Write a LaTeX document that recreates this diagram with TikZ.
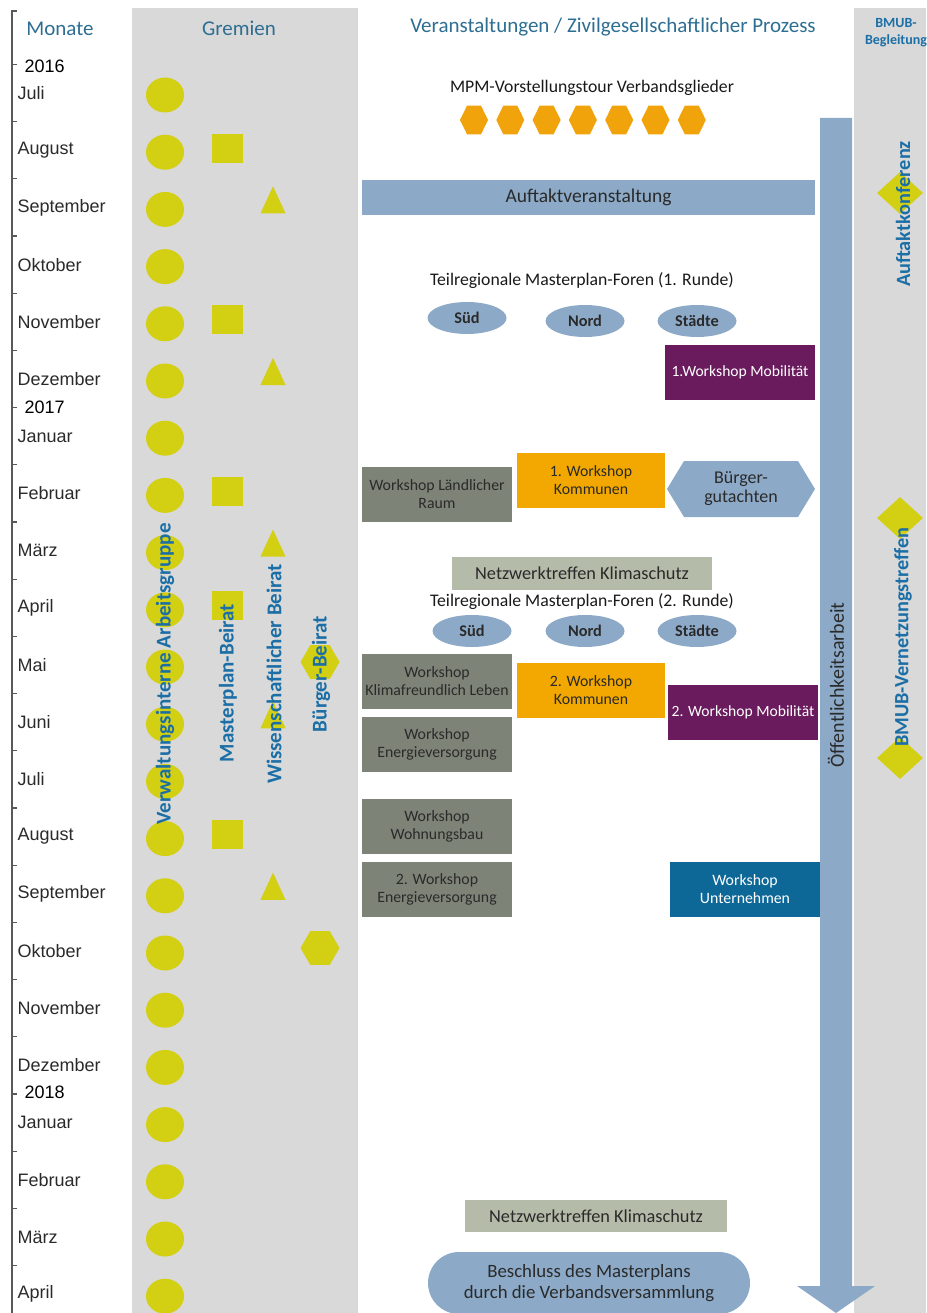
\documentclass[tikz,border=0pt]{standalone}
\usepackage{fontspec}
\setmainfont{Carlito}
\newfontfamily\monatfont{Liberation Sans}
\usetikzlibrary{shapes.geometric}

\definecolor{spaltegrau}{HTML}{D9D9D9}
\definecolor{gelb}{HTML}{D3CF12}
\definecolor{kopfblau}{HTML}{2D6E92}
\definecolor{labelblau}{HTML}{1B6FA6}
\definecolor{stahlblau}{HTML}{8CAAC7}
\definecolor{hexorange}{HTML}{F0A30A}
\definecolor{kommorange}{HTML}{F2A800}
\definecolor{mobilila}{HTML}{6A1B5D}
\definecolor{wsgrau}{HTML}{7E8378}
\definecolor{netzgrau}{HTML}{B5BBA9}
\definecolor{unternblau}{HTML}{0E6897}
\definecolor{textdunkel}{HTML}{2A2A2A}

\newcommand{\schrift}[2]{\fontsize{#1}{#2}\selectfont}

\begin{document}
\begin{tikzpicture}[x=1pt,y=-1pt,
    kreis/.style={ellipse,fill=gelb,minimum width=38,minimum height=35,inner sep=0},
    quadrat/.style={rectangle,fill=gelb,minimum width=31,minimum height=29,inner sep=0},
    dreieck/.style={regular polygon,regular polygon sides=3,fill=gelb,minimum size=29,inner sep=0,yscale=1.25},
    sechseck/.style={regular polygon,regular polygon sides=6,fill=gelb,minimum size=39,inner sep=0},
    raute/.style={diamond,fill=gelb,minimum width=46,minimum height=42,inner sep=0},
    tourhex/.style={regular polygon,regular polygon sides=6,fill=hexorange,minimum size=33,inner sep=0,xscale=0.85},
    kopf/.style={text=kopfblau,font=\schrift{21}{22}},
    gremium/.style={rotate=90,text=labelblau,font=\bfseries\schrift{21}{22}},
    bmub/.style={rotate=90,text=labelblau,font=\bfseries\schrift{20.3}{21}},
    monat/.style={anchor=west,text=textdunkel,font=\monatfont\schrift{18}{20}},
    jahr/.style={anchor=west,text=black,font=\monatfont\schrift{18}{20}},
    achse/.style={gray!70!black,line width=1.1},
    wsbox/.style={rectangle,minimum width=150,minimum height=55,inner sep=1pt,align=center,text=textdunkel,font=\schrift{15.8}{18}},
    forum/.style={ellipse,fill=stahlblau,minimum width=79,minimum height=32,inner sep=0,text=textdunkel,font=\bfseries\schrift{16.3}{17}},
    titel/.style={text=black!90,font=\schrift{17.7}{19}},
  ]
    \useasboundingbox (0,0) rectangle (926,1313);

    % Spalten
    \fill[spaltegrau] (132,8) rectangle (358,1313);
    \fill[spaltegrau] (854,8) rectangle (926,1313);

    % Zeitachse
    \draw[achse] (17,11) -- (12,11) -- (12,1313);
    \foreach \i in {0,...,21}
        \draw[achse] (12,{64.4+57.2*\i}) -- (17,{64.4+57.2*\i});

    \foreach \m [count=\i from 0] in {Juli,August,September,Oktober,November,Dezember,Januar,Februar,März,April,Mai,Juni,Juli,August,September,Oktober,November,Dezember,Januar,Februar,März,April} {
        \node[monat] (monat\i) at (14,{93+57.2*\i}) {\m};
        \node[kreis] (kreis\i) at (165,{95+57.2*\i}) {};
    }
    \node[jahr] (jahr2016) at (21,66) {2016};
    \node[jahr] (jahr2017) at (21,407) {2017};
    \node[jahr] (jahr2018) at (21,1092) {2018};

    % Gremien
    \foreach \i in {1,4,7,9,13}
        \node[quadrat] (quadrat\i) at (227,{91+57.2*\i}) {};
    \foreach \i in {2,5,8,11,14}
        \node[dreieck] (dreieck\i) at (273,{90+57.2*\i}) {};
    \foreach \i in {10,15}
        \node[sechseck] (sechseck\i) at (320,{90+57.2*\i}) {};

    \node[gremium] (vag) at (165,674) {Verwaltungsinterne Arbeitsgruppe};
    \node[gremium] (mpb) at (228,683) {Masterplan-Beirat};
    \node[gremium] (wib) at (274,674) {Wissenschaftlicher Beirat};
    \node[gremium] (bgb) at (321,674) {Bürger-Beirat};

    % Kopfzeile
    \node[kopf] (monate) at (60,29) {Monate};
    \node[kopf] (gremien) at (239,28) {Gremien};
    \node[kopf] (veranst) at (613,27) {Veranstaltungen / Zivilgesellschaftlicher Prozess};
    \node[text=labelblau,font=\bfseries\schrift{14}{17},align=center] (bmubkopf) at (896,33) {BMUB-\\Begleitung};

    % Vorstellungstour
    \node[titel] (tour) at (592,88) {MPM-Vorstellungstour Verbandsglieder};
    \foreach \i in {0,...,6}
        \node[tourhex] (tour\i) at ({474+36.3*\i},120) {};

    % Öffentlichkeitsarbeit
    \fill[stahlblau] (820,118) -- (852,118) -- (852,1286) -- (875,1286)
        -- (836,1313) -- (797,1286) -- (820,1286) -- cycle;
    \node[rotate=90,text=textdunkel,font=\schrift{20}{22}] (oeff) at (836,685) {Öffentlichkeitsarbeit};

    % Veranstaltungen
    \node[fill=stahlblau,minimum width=453,minimum height=35,inner sep=0,text=textdunkel,font=\schrift{19.5}{21}] (auftakt) at (588.5,197.5) {Auftaktveranstaltung};

    \node[titel] (foren1) at (582,281) {Teilregionale Masterplan-Foren (1. Runde)};
    \node[forum] (sued1) at (467,318) {Süd};
    \node[forum] (nord1) at (585,321) {Nord};
    \node[forum] (staedte1) at (697,321) {Städte};

    \node[wsbox,fill=mobilila,text=white,font=\schrift{15.6}{18}] (mob1) at (740,372.5) {1.Workshop Mobilität};
    \node[wsbox,fill=wsgrau] (laendl) at (437,494.5) {Workshop Ländlicher\\Raum};
    \node[wsbox,fill=kommorange,minimum width=148] (komm1) at (591,480.5) {1. Workshop\\Kommunen};
    \fill[stahlblau] (667,489) -- (684,461) -- (798,461) -- (815,489) -- (798,517) -- (684,517) -- cycle;
    \node[text=textdunkel,align=center,font=\schrift{18}{19}] (gutachten) at (741,489) {Bürger-\\gutachten};

    \node[fill=netzgrau,minimum width=260,minimum height=33,inner sep=0,text=textdunkel,font=\schrift{18.3}{20}] (netz1) at (582,573.5) {Netzwerktreffen Klimaschutz};

    \node[titel] (foren2) at (582,602) {Teilregionale Masterplan-Foren (2. Runde)};
    \node[forum] (sued2) at (472,631) {Süd};
    \node[forum] (nord2) at (585,631) {Nord};
    \node[forum] (staedte2) at (697,631) {Städte};

    \node[wsbox,fill=wsgrau] (klima) at (437,681.5) {Workshop\\Klimafreundlich Leben};
    \node[wsbox,fill=kommorange,minimum width=148] (komm2) at (591,690.5) {2. Workshop\\Kommunen};
    \node[wsbox,fill=mobilila,text=white,font=\schrift{15.6}{18}] (mob2) at (743,712.5) {2. Workshop Mobilität};
    \node[wsbox,fill=wsgrau] (energie1) at (437,744) {Workshop\\Energieversorgung};
    \node[wsbox,fill=wsgrau] (wohnbau) at (437,826.5) {Workshop\\Wohnungsbau};
    \node[wsbox,fill=wsgrau] (energie2) at (437,889.5) {2. Workshop\\Energieversorgung};
    \node[wsbox,fill=unternblau,text=white] (untern) at (745,889.5) {Workshop\\Unternehmen};

    \node[fill=netzgrau,minimum width=262,minimum height=32,inner sep=0,text=textdunkel,font=\schrift{18.3}{20}] (netz2) at (596,1216) {Netzwerktreffen Klimaschutz};
    \node[fill=stahlblau,rounded corners=31,minimum width=322,minimum height=62,align=center,text=textdunkel,font=\schrift{18.8}{21}] (beschluss) at (589,1283) {Beschluss des Masterplans\\durch die Verbandsversammlung};

    % BMUB-Begleitung
    \node[raute] (raute1) at (900,193) {};
    \node[raute] (raute2) at (900,518) {};
    \node[raute] (raute3) at (900,758) {};
    \node[bmub] (auftaktkonf) at (903,214) {Auftaktkonferenz};
    \node[bmub] (vernetz) at (903,637) {BMUB-Vernetzungstreffen};
\end{tikzpicture}
\end{document}
